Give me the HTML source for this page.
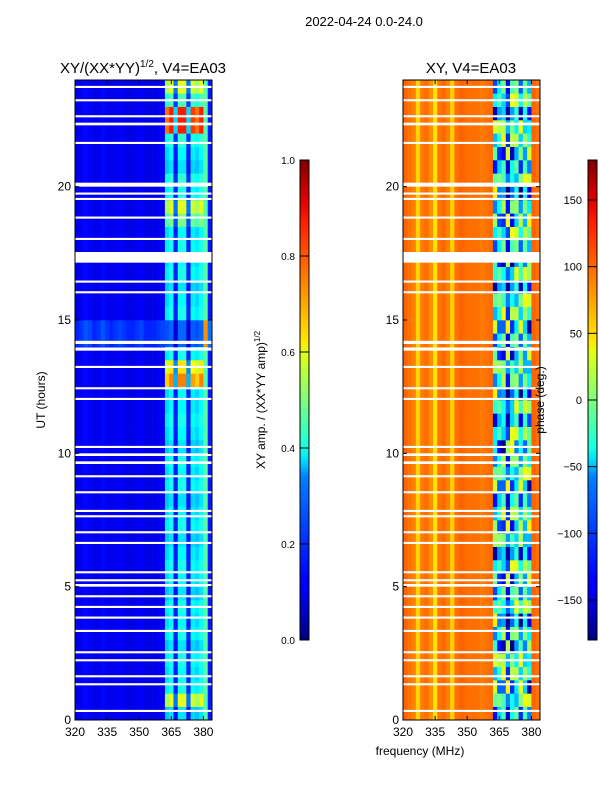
<!DOCTYPE html>
<html><head><meta charset="utf-8">
<style>
body{margin:0;background:#fff;font-family:"Liberation Sans","DejaVu Sans",sans-serif;}
svg text{font-family:"Liberation Sans","DejaVu Sans",sans-serif;fill:#000;}
</style></head>
<body>
<svg id="fig" width="600" height="800" viewBox="0 0 600 800" xmlns="http://www.w3.org/2000/svg">
<rect x="0" y="0" width="600" height="800" fill="#fff"/>
<text x="364" y="26" font-size="13" text-anchor="middle">2022-04-24 0.0-24.0</text>
<text x="143" y="73" font-size="15" text-anchor="middle">XY/(XX*YY)<tspan font-size="10" dy="-6">1/2</tspan><tspan dy="6">, V4=EA03</tspan></text>
<text x="471" y="73" font-size="15" text-anchor="middle">XY, V4=EA03</text>
<text x="420" y="755" font-size="12" text-anchor="middle">frequency (MHz)</text>
<text transform="translate(45,400) rotate(-90)" font-size="12" text-anchor="middle">UT (hours)</text>
<text transform="translate(265,400) rotate(-90)" font-size="12" text-anchor="middle">XY amp. / (XX*YY amp)<tspan font-size="8" dy="-5">1/2</tspan></text>
<g id="left"></g>
<g id="right"></g>
<g id="axes"></g>
<text transform="translate(544,400) rotate(-90)" font-size="12" text-anchor="middle">phase (deg.)</text>
<defs>
<linearGradient id="jet" x1="0" y1="1" x2="0" y2="0">
<stop offset="0" stop-color="#00007f"/><stop offset="0.11" stop-color="#0000ff"/><stop offset="0.125" stop-color="#0000ff"/><stop offset="0.34" stop-color="#0080ff"/><stop offset="0.375" stop-color="#00dfff"/><stop offset="0.4" stop-color="#16ffe1"/><stop offset="0.5" stop-color="#7dff7a"/><stop offset="0.6" stop-color="#e4ff13"/><stop offset="0.625" stop-color="#ffe600"/><stop offset="0.75" stop-color="#ff8000"/><stop offset="0.875" stop-color="#ff1a00"/><stop offset="0.91" stop-color="#e80000"/><stop offset="1" stop-color="#7f0000"/>
</linearGradient>
</defs>
<rect x="300" y="160" width="9" height="480" fill="url(#jet)" stroke="#000" stroke-width="1"/>
<rect x="588" y="160" width="9" height="480" fill="url(#jet)" stroke="#000" stroke-width="1"/>
<g id="cbticks"></g>
</svg>
<script>
// ---- data ----
const freqStart = 320, freqEnd = 384, freqStep = 2;
const hoursStart = 0, hoursEnd = 24, hourStep = 0.5;
// per-column amplitude baseline (32 cols of 2 MHz)
const colAmp = [0.1,0.11,0.13,0.12,0.1,0.11,0.13,0.11,0.1,0.11,0.12,0.11,0.1,0.1,0.11,0.12,0.1,0.1,0.1,0.11,0.12,
  0.45,0.5,0.2,0.5,0.5,0.2,0.48,0.45,0.5,0.46,0.15];
// per-row amplitude multiplier for high band (48 rows of 0.5 h)
const rowAmpHi = [0.7,1.2,0.8,0.75,0.8,0.7,0.8,0.75,0.8,0.7,0.75,0.8,0.75,0.7,0.8,0.75,0.7,0.8,0.75,0.8,0.7,0.75,0.8,0.75,
  0.75,1.5,1.3,0.8,0.45,0.45,0.8,0.75,0.7,0.8,0.75,0.8,0.75,1.0,1.2,0.8,0.85,0.7,0.75,0.85,1.7,1.7,0.9,1.2];
// per-column phase baseline (deg)
const colPhase = [100,95,90,60,92,96,85,55,94,98,90,62,95,100,98,95,96,95,92,95,98,
  -130,-60,-20,-150,-40,-10,-120,-20,-90,100,95];
// per-row phase offset for high band (deg)
const rowPhaseHi = [0,60,-40,30,80,-70,20,-30,50,10,-60,40,-20,70,-50,30,0,-40,60,20,-80,40,-10,50,
  -30,20,70,-60,10,-40,30,60,-20,50,-70,10,40,-50,20,-30,60,0,-60,30,80,-20,40,10];
// time gaps (hours) drawn as white lines
const gapStart = [0.3,1.3,1.6,2.2,2.5,3.3,3.8,4.2,4.6,5.0,5.2,5.5,6.6,7.0,7.6,7.8,8.5,9.1,9.6,9.9,10.2,12.0,12.4,13.2,13.85,14.1,16.0,16.4,17.15,18.0,18.8,19.5,19.7,20.0,21.6,22.3,22.6,23.2,23.7];
const gapLen = [0.08,0.08,0.08,0.08,0.08,0.08,0.08,0.08,0.08,0.1,0.08,0.08,0.08,0.08,0.08,0.08,0.08,0.08,0.1,0.1,0.08,0.08,0.08,0.08,0.12,0.12,0.08,0.08,0.4,0.08,0.08,0.08,0.08,0.15,0.08,0.1,0.08,0.08,0.08];
const xTicks = [320,335,350,365,380];
const yTicks = [0,5,10,15,20];
const ampTicks = [0.0,0.2,0.4,0.6,0.8,1.0];
const phaseTicks = [-150,-100,-50,0,50,100,150];

// ---- helpers ----
const NS = "http://www.w3.org/2000/svg";
function jet(v){v=Math.max(0,Math.min(1,v));
  const r=Math.min(4*v-1.5,-4*v+4.5), g=Math.min(4*v-0.5,-4*v+3.5), b=Math.min(4*v+0.5,-4*v+2.5);
  const c=x=>Math.round(255*Math.max(0,Math.min(1,x)));
  return `rgb(${c(r)},${c(g)},${c(b)})`;}
function xL(f){return 75+(f-freqStart)/(freqEnd-freqStart)*137;}
function xR(f){return 403+(f-freqStart)/(freqEnd-freqStart)*137;}
function yT(h){return 720-(h-hoursStart)/(hoursEnd-hoursStart)*640;}
function wrap(p){while(p>180)p-=360;while(p<-180)p+=360;return p;}
function mk(tag,attrs,parent){const e=document.createElementNS(NS,tag);for(const k in attrs)e.setAttribute(k,attrs[k]);parent.appendChild(e);return e;}

const L=document.getElementById('left'), R=document.getElementById('right'), A=document.getElementById('axes'), CB=document.getElementById('cbticks');
const nCols=colAmp.length, nRows=rowAmpHi.length;
for(let r=0;r<nRows;r++){
  const h0=hoursStart+r*hourStep, y1=yT(h0), y0=yT(h0+hourStep);
  for(let c=0;c<nCols;c++){
    const f0=freqStart+c*freqStep, hi=f0>=362&&f0<380;
    let amp=hi?colAmp[c]*rowAmpHi[r]:colAmp[c]*(h0>=14&&h0<15?1.6:1);
    let ph=hi?wrap(colPhase[c]+rowPhaseHi[r]*((c%2)+1)):colPhase[c];
    if(hi&&ph>40)ph=ph-120;
    const a=mk('rect',{x:xL(f0),y:y0,width:xL(f0+freqStep)-xL(f0)+0.3,height:y1-y0+0.3,fill:jet(amp)},L);
    
    
    const p=mk('rect',{x:xR(f0),y:y0,width:xR(f0+freqStep)-xR(f0)+0.3,height:y1-y0+0.3,fill:jet((ph+180)/360)},R);
    
    
  }
}
for(let i=0;i<gapStart.length;i++){
  const y0=yT(gapStart[i]+gapLen[i]), hgt=Math.max(2,yT(gapStart[i])-y0);
  const g1=mk('rect',{x:75,y:y0,width:137,height:hgt,fill:'#fff'},L);
  
  
  const g2=mk('rect',{x:403,y:y0,width:137,height:hgt,fill:'#fff'},R);
  
  
}
[[75,xL],[403,xR]].forEach(([x0,fx])=>{
  const fr=mk('rect',{x:x0,y:80,width:137,height:640,fill:'none',stroke:'#000','stroke-width':1},A);
  
  
  xTicks.forEach(t=>{const x=fx(t);
    mk('line',{x1:x,y1:720,x2:x,y2:716,stroke:'#000'},A);mk('line',{x1:x,y1:80,x2:x,y2:84,stroke:'#000'},A);
    const tx=mk('text',{x:x,y:736,'font-size':12,'text-anchor':'middle'},A);tx.textContent=t;
    
    });
  yTicks.forEach(t=>{const y=yT(t);
    mk('line',{x1:x0,y1:y,x2:x0+4,y2:y,stroke:'#000'},A);mk('line',{x1:x0+137,y1:y,x2:x0+133,y2:y,stroke:'#000'},A);
    const tx=mk('text',{x:x0-4,y:y+4,'font-size':12,'text-anchor':'end'},A);tx.textContent=t;
    
    });
});
ampTicks.forEach(t=>{const y=640-t*480;
  mk('line',{x1:300,y1:y,x2:309,y2:y,stroke:'#000'},CB);
  const tx=mk('text',{x:295,y:y+4,'font-size':10,'text-anchor':'end'},CB);tx.textContent=t.toFixed(1);
  
  });
phaseTicks.forEach(t=>{const y=400-t*480/360;
  mk('line',{x1:588,y1:y,x2:597,y2:y,stroke:'#000'},CB);
  const tx=mk('text',{x:582,y:y+4,'font-size':11,'text-anchor':'end'},CB);tx.textContent=t<0?'\u2212'+(-t):t;
  
  });
</script>
</body></html>
